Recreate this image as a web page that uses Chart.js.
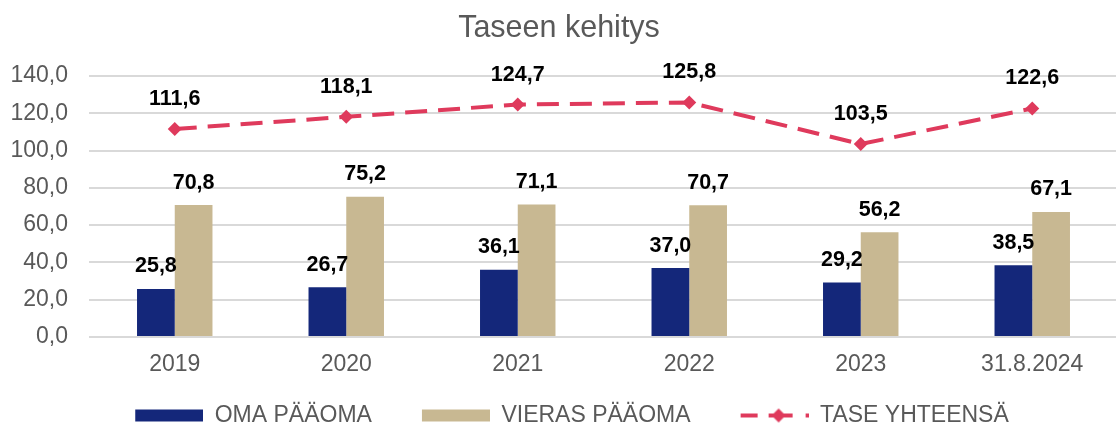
<!DOCTYPE html>
<html><head><meta charset="utf-8">
<script src="https://cdn.jsdelivr.net/npm/chart.js@4.4.1/dist/chart.umd.min.js"></script>
<style>html,body{margin:0;padding:0;overflow:hidden;background:#fff}canvas{display:block}</style>
</head><body><canvas id="c" width="1118" height="426" style="width:1118px;height:426px"></canvas>
<script>
const categories = ['2019', '2020', '2021', '2022', '2023', '31.8.2024'];
const omaPaaoma = [25.8, 26.7, 36.1, 37.0, 29.2, 38.5];
const vierasPaaoma = [70.8, 75.2, 71.1, 70.7, 56.2, 67.1];
const taseYhteensa = [111.6, 118.1, 124.7, 125.8, 103.5, 122.6];
const yTicks = [0, 20, 40, 60, 80, 100, 120, 140];
const seriesNames = ['OMA PÄÄOMA', 'VIERAS PÄÄOMA', 'TASE YHTEENSÄ'];
const titleText = 'Taseen kehitys';

const NAVY = '#14277A';
const TAN = '#C8B892';
const RED = '#DF3A5C';
const GRAY = '#595959';
const FONT = "'Liberation Sans', Arial, sans-serif";

const fmt = v => v.toFixed(1).replace('.', ',');

const M = 26, W = 68 + M;
function boxImg(color) {
  const c = document.createElement('canvas'); c.width = W; c.height = 16;
  const g = c.getContext('2d'); g.fillStyle = color; g.fillRect(M, 2, 68, 12); return c;
}
function lineImg(color) {
  const c = document.createElement('canvas'); c.width = W; c.height = 16;
  const g = c.getContext('2d');
  g.strokeStyle = color; g.fillStyle = color; g.lineWidth = 4;
  g.beginPath(); g.moveTo(M, 8); g.lineTo(M + 17, 8); g.moveTo(M + 28, 8); g.lineTo(M + 52, 8); g.stroke();
  g.beginPath(); g.moveTo(M + 38, 1); g.lineTo(M + 45, 8); g.lineTo(M + 38, 15); g.lineTo(M + 31, 8); g.closePath(); g.fill();
  g.fillRect(M + 65, 6, 4, 4);
  return c;
}
const legendImgs = [boxImg(NAVY), boxImg(TAN), lineImg(RED)];

const labelPlugin = {
  id: 'valueLabels',
  afterDatasetsDraw(chart) {
    const ctx = chart.ctx;
    ctx.save();
    ctx.font = 'bold 21.5px ' + FONT;
    ctx.fillStyle = '#000';
    ctx.textAlign = 'center';
    ctx.textBaseline = 'alphabetic';
    chart.data.datasets.forEach((ds, di) => {
      const meta = chart.getDatasetMeta(di);
      const off = ds.type === 'line' ? 24 : 16.5;
      meta.data.forEach((el, i) => {
        ctx.fillText(fmt(ds.data[i]), el.x, el.y - off);
      });
    });
    ctx.restore();
  }
};

new Chart(document.getElementById('c'), {
  data: {
    labels: categories,
    datasets: [
      { type: 'bar', label: seriesNames[0], data: omaPaaoma, backgroundColor: NAVY, categoryPercentage: 0.44, barPercentage: 1, order: 1 },
      { type: 'bar', label: seriesNames[1], data: vierasPaaoma, backgroundColor: TAN, categoryPercentage: 0.44, barPercentage: 1, order: 1 },
      { type: 'line', label: seriesNames[2], data: taseYhteensa, borderColor: RED, backgroundColor: RED, borderWidth: 4,
        borderDash: [22, 11], borderCapStyle: 'butt', pointStyle: 'rectRot', pointRadius: 7, pointBorderWidth: 0,
        pointBackgroundColor: RED, fill: false, tension: 0, order: 0, clip: false }
    ]
  },
  options: {
    responsive: false, maintainAspectRatio: false, animation: false, devicePixelRatio: 1,
    layout: { padding: 0, autoPadding: false },
    plugins: {
      tooltip: { enabled: false },
      title: { display: true, text: titleText, color: GRAY, font: { family: FONT, size: 30.5, weight: 'normal' },
               padding: { top: 10, bottom: 29.4 } },
      legend: {
        position: 'bottom', maxHeight: 46,
        labels: {
          usePointStyle: true, pointStyleWidth: W, padding: 24, color: GRAY,
          font: { family: FONT, size: 23 },
          generateLabels: chart => chart.data.datasets.map((ds, i) => ({
            text: ds.label, fillStyle: ds.backgroundColor, strokeStyle: ds.backgroundColor, lineWidth: 0,
            pointStyle: legendImgs[i], hidden: false, datasetIndex: i, fontColor: GRAY
          }))
        }
      }
    },
    scales: {
      x: {
        grid: { display: false, drawTicks: false },
        border: { display: false },
        ticks: { color: GRAY, font: { family: FONT, size: 23 }, padding: 14, maxRotation: 0 },
        afterFit: s => { s.height = 43; }
      },
      y: {
        min: 0, max: 140,
        grid: { color: '#D9D9D9', lineWidth: 2, drawTicks: false },
        border: { display: false },
        afterBuildTicks: s => { s.ticks = yTicks.map(v => ({ value: v })); },
        ticks: { color: GRAY, font: { family: FONT, size: 23 }, padding: 21, callback: v => fmt(v) },
        afterFit: s => { s.width = 89; }
      }
    }
  },
  plugins: [labelPlugin]
});
</script></body></html>
